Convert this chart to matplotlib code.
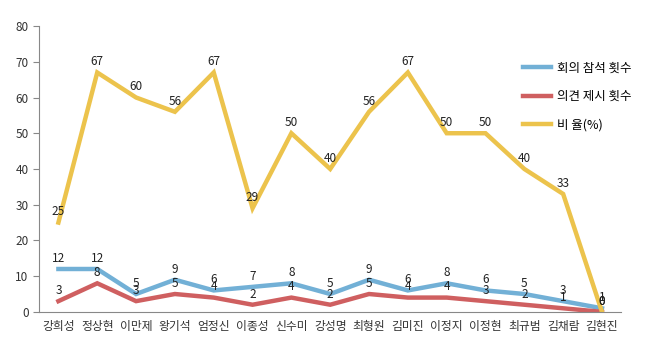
import numpy as np
import matplotlib
matplotlib.use("Agg")
import matplotlib.pyplot as plt

plt.rcParams['font.family'] = ['Noto Sans CJK KR', 'DejaVu Sans']

# data
names = ['강희성', '정상현', '이만제', '왕기석', '엄정신', '이종성', '신수미', '강성명',
         '최형원', '김미진', '이정지', '이정현', '최규범', '김채람', '김현진']
attend = [12, 12, 5, 9, 6, 7, 8, 5, 9, 6, 8, 6, 5, 3, 1]
opinion = [3, 8, 3, 5, 4, 2, 4, 2, 5, 4, 4, 3, 2, 1, 0]
ratio = [25, 67, 60, 56, 67, 29, 50, 40, 56, 67, 50, 50, 40, 33, 0]

series = [
    ('회의 참석 횟수', attend, '#72b0d6'),
    ('의견 제시 횟수', opinion, '#cf5f60'),
    ('비 율(%)', ratio, '#ecc34c'),
]

fig = plt.figure(figsize=(6.5, 3.52), dpi=100)
ax = fig.add_axes([0.06, 0.114, 0.896, 0.812])

x = np.arange(len(names))
for label, vals, col in series:
    ax.plot(x, vals, color=col, lw=3.2, label=label, solid_joinstyle='miter')
    for xi, v in zip(x, vals):
        ax.annotate(str(v), (xi, v), xytext=(0, 3), textcoords='offset points',
                    ha='center', va='bottom', fontsize=8.5, color='#222222')

ax.set_xlim(-0.5, len(names) - 0.5)
ax.set_ylim(0, 80)
ax.set_yticks(range(0, 81, 10))
ax.set_xticks(x)
ax.set_xticklabels(names)
ax.tick_params(axis='x', length=0, labelsize=8.5, pad=6, labelcolor='#333333')
ax.tick_params(axis='y', length=4, color='#888888', labelsize=8.5, direction='out',
               labelcolor='#333333')
for s in ['top', 'right']:
    ax.spines[s].set_visible(False)
for s in ['left', 'bottom']:
    ax.spines[s].set_color('#888888')

ax.legend(loc='upper left', bbox_to_anchor=(0.812, 0.915), frameon=False,
          fontsize=9, handlelength=2.2, labelspacing=1.25, handletextpad=0.5)

fig.savefig('out.png', dpi=100)
